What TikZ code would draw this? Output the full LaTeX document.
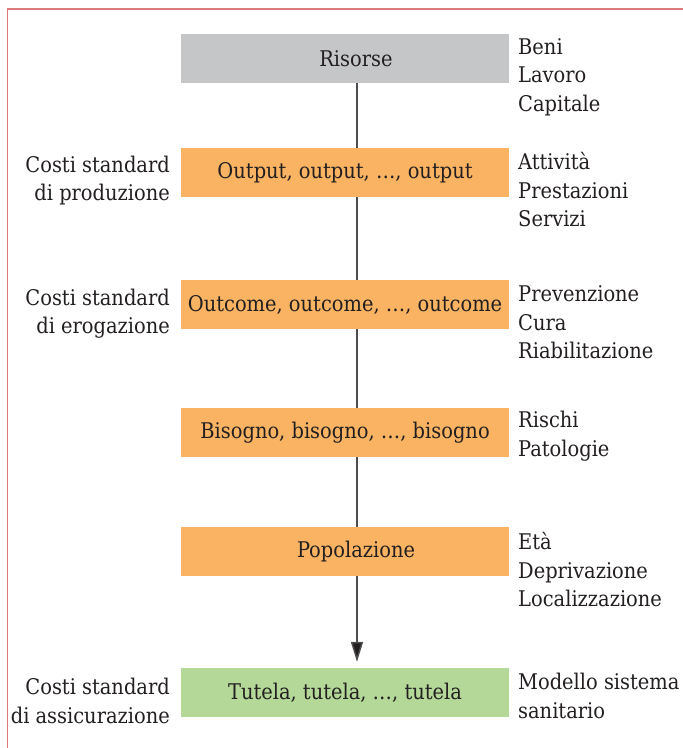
\documentclass[tikz,border=0pt]{standalone}
\usepackage{fontspec}
\IfFontExistsTF{DejaVu Serif Condensed}{\setmainfont{DejaVu Serif Condensed}}{\setmainfont{DejaVu Serif}}
\usetikzlibrary{arrows.meta}
\definecolor{txt}{HTML}{231F20}
\definecolor{boxgray}{HTML}{C5C6C8}
\definecolor{boxorange}{HTML}{F9B363}
\definecolor{boxgreen}{HTML}{B3D898}
\definecolor{frame}{HTML}{DB7B7E}
\definecolor{spinecol}{HTML}{4D4D4F}
\newcommand{\boxtext}[1]{\raisebox{-2pt}{#1}}
\begin{document}
\begin{tikzpicture}[x=1pt,y=-1pt,
  every node/.style={text=txt,font=\fontsize{21.6}{28.5}\selectfont},
  box/.style={minimum width=328pt,minimum height=49pt,inner sep=0pt,draw=none},
  graybox/.style={box,fill=boxgray},
  orangebox/.style={box,fill=boxorange},
  greenbox/.style={box,fill=boxgreen},
  lefttext/.style={align=right,anchor=east,inner sep=0pt},
  righttext/.style={align=left,anchor=west,inner sep=0pt},
  spine/.style={draw=spinecol,line width=1.5pt},
  spinearrow/.style={spine,-{Triangle[width=12pt,length=20pt,fill=txt]},shorten >=6pt}]
\useasboundingbox (0,0) rectangle (683,748);
\fill[white] (0,0) rectangle (683,748);
\draw[frame,line width=1.8pt] (683,9) -- (7.5,9) -- (7.5,748);
\coordinate (sx) at (357,0);
\node[graybox] (res) at (345,58.5) {\boxtext{\hspace*{22pt}Risorse}};
\node[orangebox] (out) at (345,172.5) {\boxtext{Output, output, \dots, output}};
\node[orangebox] (outc) at (345,304.5) {\boxtext{Outcome, outcome, \dots, outcome}};
\node[orangebox] (bis) at (345,432.5) {\boxtext{Bisogno, bisogno, \dots, bisogno}};
\node[orangebox] (pop) at (345,551.5) {\boxtext{\hspace*{22pt}Popolazione}};
\node[greenbox] (tut) at (345,692.5) {\boxtext{Tutela, tutela, \dots, tutela}};
\draw[spine] (res.south -| sx) -- (out.north -| sx);
\draw[spine] (out.south -| sx) -- (outc.north -| sx);
\draw[spine] (outc.south -| sx) -- (bis.north -| sx);
\draw[spine] (bis.south -| sx) -- (pop.north -| sx);
\draw[spinearrow] (pop.south -| sx) -- (tut.north -| sx);
\node[lefttext] (l1) at (170,180.5) {Costi standard\\di produzione};
\node[lefttext] (l2) at (170,313.5) {Costi standard\\di erogazione};
\node[lefttext] (l3) at (170,701) {Costi standard\\di assicurazione};
\node[righttext] (r1) at (518,77) {Beni\\Lavoro\\Capitale};
\node[righttext] (r2) at (518,190) {Attività\\Prestazioni\\Servizi};
\node[righttext] (r3) at (518,322.5) {Prevenzione\\Cura\\Riabilitazione};
\node[righttext] (r4) at (518,436) {Rischi\\Patologie};
\node[righttext] (r5) at (518,570) {Età\\Deprivazione\\Localizzazione};
\node[righttext] (r6) at (518,696) {Modello sistema\\sanitario};
\end{tikzpicture}
\end{document}
